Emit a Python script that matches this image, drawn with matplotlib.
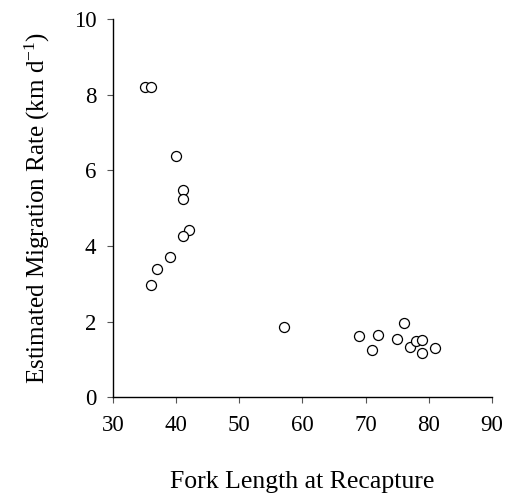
import matplotlib
matplotlib.use("Agg")
import matplotlib.pyplot as plt

plt.rcParams['font.family'] = ['Liberation Serif', 'DejaVu Serif']
plt.rcParams['mathtext.fontset'] = 'custom'
plt.rcParams['mathtext.rm'] = 'Liberation Serif'
plt.rcParams['mathtext.it'] = 'Liberation Serif:italic'

# Fork length at recapture vs estimated migration rate (km/d)
fork_length = [35, 36, 40, 41, 41, 42, 41, 39, 37, 36,
               57, 69, 71, 72, 75, 76, 77, 78, 79, 79, 81]
migration_rate = [8.22, 8.22, 6.39, 5.48, 5.24, 4.43, 4.26, 3.71, 3.39, 2.96,
                  1.86, 1.63, 1.25, 1.65, 1.55, 1.95, 1.33, 1.48, 1.51, 1.16, 1.29]

x_ticks = [30, 40, 50, 60, 70, 80, 90]
y_ticks = [0, 2, 4, 6, 8, 10]

fig = plt.figure(figsize=(5.14, 4.94), dpi=100)
ax = fig.add_axes([0.22, 0.196, 0.737, 0.765])

ax.scatter(fork_length, migration_rate, s=52, facecolors='white',
           edgecolors='black', linewidths=0.9, zorder=3, clip_on=False)

ax.set_xlim(30, 90)
ax.set_ylim(0, 10)
ax.set_xticks(x_ticks)
ax.set_yticks(y_ticks)

for side in ['top', 'right']:
    ax.spines[side].set_visible(False)
for side in ['left', 'bottom']:
    ax.spines[side].set_linewidth(1.0)
    ax.spines[side].set_color('black')

ax.tick_params(direction='out', length=4, width=0.8, color='#555555',
               labelsize=16.5, pad=8)
ax.tick_params(axis='x', pad=9)

ax.set_xlabel('Fork Length at Recapture', fontsize=18.5, labelpad=25)
ax.set_ylabel('Estimated Migration Rate (km d$^{-1}$)', fontsize=18, labelpad=16)

fig.savefig('out.png', dpi=100)
